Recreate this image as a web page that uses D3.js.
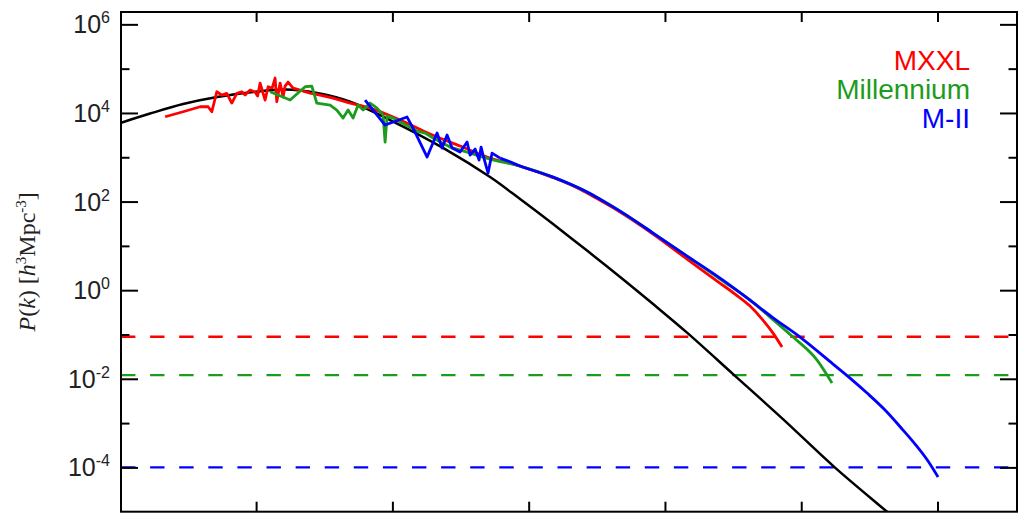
<!DOCTYPE html>
<html>
<head>
<meta charset="utf-8">
<script src="https://cdn.jsdelivr.net/npm/d3@7"></script>
<style>
  html, body { margin: 0; padding: 0; background: #fff; }
  svg { display: block; }
</style>
</head>
<body>
<script>
// Matter power spectrum P(k) of the three simulations against linear theory.

// Axis ranges and ticks
const kDomain = [0.00102, 3830];
const pDomain = [1e-5, 1.9e6];
const kTicks = [1e-2, 1e-1, 1, 1e1, 1e2, 1e3];
const pMajorTicks = [1e6, 1e4, 1e2, 1, 1e-2, 1e-4];
const pMajorExponents = ["6", "4", "2", "0", "-2", "-4"];
const pMinorTicks = [1e5, 1e3, 1e1, 1e-1, 1e-3];

// Linear-theory spectrum
const linearK = [0.001023, 0.001667, 0.002911, 0.005176, 0.009506, 0.01633, 0.02805,
  0.04898, 0.09616, 0.2438, 0.5212, 0.865, 1.51, 2.679, 4.688, 8.185, 14.52, 31.62, 73.45,
  177.0, 426.1, 530.9];
const linearP = [6010, 9690, 15880, 22850, 29630, 33700, 28100,
  17900, 6920, 1530, 357, 114, 31.1, 7.83, 1.98, 0.486, 0.110, 0.01276, 1.23e-3,
  9.89e-5, 9.95e-6, 5.53e-6];

// MXXL
const mxxlK = [0.00215, 0.002913, 0.003882, 0.004444, 0.004732, 0.005148, 0.005602, 0.006095,
  0.006632, 0.007216, 0.007852, 0.008304, 0.009035, 0.009832, 0.01026, 0.0107, 0.01164, 0.01225,
  0.01311, 0.01378, 0.01418, 0.015, 0.01578, 0.01632, 0.01717, 0.01868, 0.02103, 0.02489,
  0.02949, 0.03671, 0.04894, 0.06862, 0.1139, 0.189, 0.3138, 0.5209, 0.8648, 1.51, 2.013,
  2.683, 3.515, 4.684, 6.242, 8.179, 14.53, 24.12, 32.68, 42.11, 51.58, 62.11, 72.31];
const mxxlP = [8210, 10640, 13800, 13800, 10640, 30100, 25360, 27700,
  16730, 27700, 30100, 25360, 32890, 29630, 24070, 47320, 19550, 39030,
  36490, 61360, 17900, 47320, 22850, 40480, 49830, 36490, 32890, 28130,
  25360, 21700, 16730, 12900, 6917, 3340, 1790, 959, 633, 348, 242,
  155.6, 97.5, 57.9, 32.7, 18.47, 5.04, 1.605, 0.817, 0.438, 0.2227, 0.1075, 0.052];

// Millennium
const millK = [0.01267, 0.01776, 0.02288, 0.02563, 0.02788, 0.0349, 0.03909, 0.04347, 0.04732,
  0.05148, 0.05602, 0.06095, 0.06862, 0.0772, 0.08546, 0.08841, 0.09145, 0.1012, 0.1139,
  0.1303, 0.1518, 0.1738, 0.1989, 0.2651, 0.3533, 0.5209, 0.8648, 1.51, 2.683, 4.684,
  8.179, 14.53, 25.37, 42.11, 59.03, 87.07, 130.6, 168.3];
const millP = [30100, 19550, 39030, 40480, 16730, 15080, 11630, 7671, 11630,
  7671, 15080, 11630, 16730, 12900, 8966, 2204, 8513, 7671, 6232,
  5062, 3904, 3518, 2713, 1700, 1311, 911, 633, 357, 163.9, 61.0,
  19.45, 5.89, 1.78, 0.598, 0.247, 0.0874, 0.0264, 0.0080];

// Millennium-II
const m2K = [0.06303, 0.08841, 0.1282, 0.1418, 0.1798, 0.2128, 0.2315, 0.2519, 0.2742, 0.3138,
  0.3533, 0.3716, 0.4045, 0.4326, 0.4475, 0.4628, 0.5036, 0.5388, 0.6169, 0.7063, 0.8648,
  1.51, 2.013, 2.683, 3.515, 4.684, 6.242, 8.179, 14.53, 25.37, 42.11, 61.06, 98.0, 171.1,
  228.1, 304.0, 411.9, 558.4, 683.9, 851.6, 1009];
const m2P = [19550, 5332, 8082, 4562, 1011, 3518, 1613, 3171, 1613, 1311,
  2204, 1121, 1531, 865, 1700, 1121, 440, 1244, 959, 821, 633,
  357, 248, 163.9, 102.6, 61.0, 34.5, 19.45, 5.89, 1.876, 0.598, 0.247, 0.0874, 0.0215,
  0.01037, 0.00476, 1.97e-3, 6.95e-4, 3.36e-4, 1.39e-4, 6.04e-5];

// Shot-noise level of each run, and labels
const seriesNames = ["MXXL", "Millennium", "M-II"];
const seriesColors = ["#ff0000", "#1c9c1c", "#0000ff"];
const shotNoise = [0.0887, 0.0121, 1.0e-4];
// Wavenumber above which each measured spectrum is drawn as a smooth curve
const smoothFromK = [0.04894, 0.3533, 0.6169];

const W = 1018, H = 515;
const plotLeft = 121, plotRight = 1017, plotTop = 12, plotBottom = 511.7;

const svg = d3.select("body").append("svg").attr("width", W).attr("height", H);

const x = d3.scaleLog().domain(kDomain).range([plotLeft, plotRight]);
const y = d3.scaleLog().domain(pDomain).range([plotBottom, plotTop]);

svg.append("defs").append("clipPath").attr("id", "plot-clip")
  .append("rect").attr("x", plotLeft).attr("y", plotTop)
  .attr("width", plotRight - plotLeft).attr("height", plotBottom - plotTop);

const plot = svg.append("g").attr("clip-path", "url(#plot-clip)");

// Shot-noise levels
plot.selectAll("line.shot").data(shotNoise).join("line")
  .attr("class", "shot")
  .attr("x1", plotLeft).attr("x2", plotRight)
  .attr("y1", d => y(d)).attr("y2", d => y(d))
  .attr("stroke", (d, i) => seriesColors[i])
  .attr("stroke-width", 2.4)
  .attr("stroke-dasharray", "14.4,14.7");

const zip = (ks, ps) => ks.map((k, i) => [k, ps[i]]);
const smooth = d3.line().x(d => x(d[0])).y(d => y(d[1])).curve(d3.curveCatmullRom.alpha(0.5));
const monotone = d3.line().x(d => x(d[0])).y(d => y(d[1])).curve(d3.curveMonotoneX);
const jagged = d3.line().x(d => x(d[0])).y(d => y(d[1]));

plot.append("path").datum(zip(linearK, linearP))
  .attr("d", smooth).attr("fill", "none")
  .attr("stroke", "#000").attr("stroke-width", 2.5);

const sims = [zip(mxxlK, mxxlP), zip(millK, millP), zip(m2K, m2P)];
sims.forEach((pts, i) => {
  const cut = pts.findIndex(d => d[0] >= smoothFromK[i]);
  const g = plot.append("g")
    .attr("fill", "none")
    .attr("stroke", seriesColors[i]).attr("stroke-width", 2.8)
    .attr("stroke-linejoin", "round");
  g.append("path").attr("d", jagged(pts.slice(0, cut + 1)));
  g.append("path").attr("d", monotone(pts.slice(cut)));
});

// Frame and inward ticks
const axes = svg.append("g");
const tickStyle = g => {
  g.select(".domain").remove();
  g.selectAll(".tick line").attr("stroke", "#000").attr("stroke-width", 2);
};
axes.append("g").attr("transform", `translate(0,${plotBottom})`)
  .call(d3.axisBottom(x).tickValues(kTicks).tickSize(-10).tickFormat(""))
  .call(tickStyle);
axes.append("g").attr("transform", `translate(0,${plotTop})`)
  .call(d3.axisTop(x).tickValues(kTicks).tickSize(-10).tickFormat(""))
  .call(tickStyle);
axes.append("g").attr("transform", `translate(${plotLeft},0)`)
  .call(d3.axisLeft(y).tickValues(pMajorTicks).tickSize(-17).tickFormat(""))
  .call(tickStyle);
axes.append("g").attr("transform", `translate(${plotLeft},0)`)
  .call(d3.axisLeft(y).tickValues(pMinorTicks).tickSize(-8.5).tickFormat(""))
  .call(tickStyle);
axes.append("g").attr("transform", `translate(${plotRight},0)`)
  .call(d3.axisRight(y).tickValues(pMajorTicks).tickSize(-17).tickFormat(""))
  .call(tickStyle);
axes.append("g").attr("transform", `translate(${plotRight},0)`)
  .call(d3.axisRight(y).tickValues(pMinorTicks).tickSize(-8.5).tickFormat(""))
  .call(tickStyle);

svg.append("rect")
  .attr("x", plotLeft).attr("y", plotTop)
  .attr("width", plotRight - plotLeft).attr("height", plotBottom - plotTop)
  .attr("fill", "none").attr("stroke", "#000").attr("stroke-width", 2);

// Tick labels: 10 with a raised exponent
const labels = svg.append("g")
  .attr("font-family", "'Liberation Sans', Arial, Helvetica, sans-serif")
  .attr("fill", "#222");
pMajorTicks.forEach((v, i) => {
  const t = labels.append("text")
    .attr("x", 110).attr("y", y(v) + 9)
    .attr("text-anchor", "end")
    .attr("font-size", 25);
  t.append("tspan").text("10");
  t.append("tspan").attr("font-size", 16).attr("dy", -10).text(pMajorExponents[i]);
});

// Y-axis title
const title = svg.append("text")
  .attr("transform", `translate(35,${(plotTop + plotBottom) / 2}) rotate(-90)`)
  .attr("text-anchor", "middle")
  .attr("font-family", "'Liberation Serif', 'Times New Roman', serif")
  .attr("font-size", 24)
  .attr("fill", "#222");
title.append("tspan").attr("font-style", "italic").text("P");
title.append("tspan").text("(");
title.append("tspan").attr("font-style", "italic").text("k");
title.append("tspan").text(") [");
title.append("tspan").attr("font-style", "italic").text("h");
title.append("tspan").attr("font-size", 15).attr("dy", -9).text("3");
title.append("tspan").attr("dy", 9).text("Mpc");
title.append("tspan").attr("font-size", 15).attr("dy", -9).text("-3");
title.append("tspan").attr("dy", 9).text("]");

// Legend
svg.append("g")
  .attr("font-family", "'Liberation Sans', Arial, Helvetica, sans-serif")
  .attr("font-size", 28)
  .attr("text-anchor", "end")
  .selectAll("text").data(seriesNames).join("text")
  .attr("x", 970)
  .attr("y", (d, i) => 70 + i * 29)
  .attr("fill", (d, i) => seriesColors[i])
  .text(d => d);
</script>
</body>
</html>
